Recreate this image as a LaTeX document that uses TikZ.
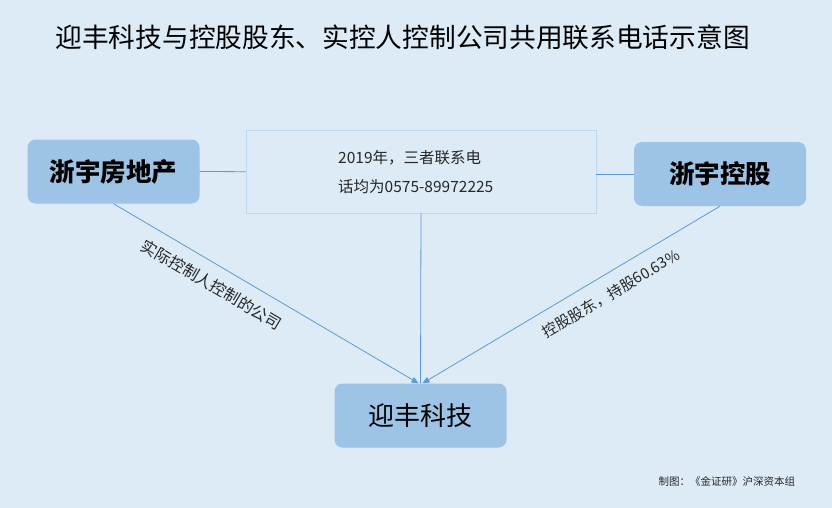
\documentclass[tikz,border=0pt]{standalone}
\usepackage{fontspec}
\setmainfont{Noto Sans CJK SC}
\usepackage{xcolor}
\usetikzlibrary{arrows.meta}

\definecolor{bgblue}{HTML}{DDEBF7}
\definecolor{boxblue}{HTML}{9DC3E6}
\definecolor{lineblue}{HTML}{5B9BD5}
\definecolor{frameblue}{HTML}{BDD7EE}
\definecolor{inkgray}{HTML}{262626}

\begin{document}
\begin{tikzpicture}[
    % GLOBAL CFG
    x=1pt, y=-1pt,
    >={Triangle[length=7pt,width=6pt]},
    % Styles
    company/.style={% For the company boxes
        rectangle,
        rounded corners=8pt,
        fill=boxblue,
        minimum width=172pt,
        minimum height=64pt,
        inner sep=0pt,
        font=\fontsize{26}{30}\selectfont,
        },
    note/.style={% For the phone number box
        rectangle,
        draw=frameblue,
        fill=bgblue,
        minimum width=350pt,
        minimum height=83pt,
        inner sep=0pt,
        },
    lbl/.style={% Texts along the arrows
        text=inkgray,
        inner sep=0pt,
        },
    link/.style={% Connectors
        draw=lineblue,
        line width=0.8pt,
        },
    ]

    % Background and title
    \fill[bgblue] (0,0) rectangle (832,508);
    \node[anchor=west, font=\fontsize{26.7}{30}\selectfont] (title) at (52,37)
        {迎丰科技与控股股东、实控人控制公司共用联系电话示意图};

    % Draw the boxes
    \node[company, font=\fontsize{25.5}{30}\selectfont\bfseries] (estate) at (113.5,171.5) {浙宇房地产};
    \node[company, font=\fontsize{25.5}{30}\selectfont\bfseries] (hold) at (720,174) {浙宇控股};
    \node[company] (tech) at (420.5,415.5) {迎丰科技};
    \node[note] (info) at (421,171.7) {};
    \node[anchor=west, align=left, text=inkgray, inner sep=0pt,
        font=\fontsize{15.5}{29.5}\selectfont] (phone) at (338,172)
        {2019年，三者联系电\\话均为0575-89972225};

    % Connectors
    \draw[link] (estate.east) -- (info.west);
    \draw[link] (hold.west) -- (hold.west -| info.east);
    \draw[link] (info.south) -- (tech.north);
    \draw[link, ->] (estate.south) -- ([xshift=-2pt]tech.north)
        node[lbl, font=\fontsize{16}{18}\selectfont, pos=0.355, sloped, below=12pt] {实际控制人控制的公司};
    \draw[link, ->] (hold.south) -- ([xshift=2pt]tech.north)
        node[lbl, font=\fontsize{15}{18}\selectfont, pos=0.40, sloped, below=12pt] {控股股东，持股60.63\%};

    % Credit
    \node[anchor=west, text=inkgray, font=\fontsize{10.5}{12}\selectfont] (credit) at (655,481.5)
        {制图：《金证研》沪深资本组};

\end{tikzpicture}
\end{document}
